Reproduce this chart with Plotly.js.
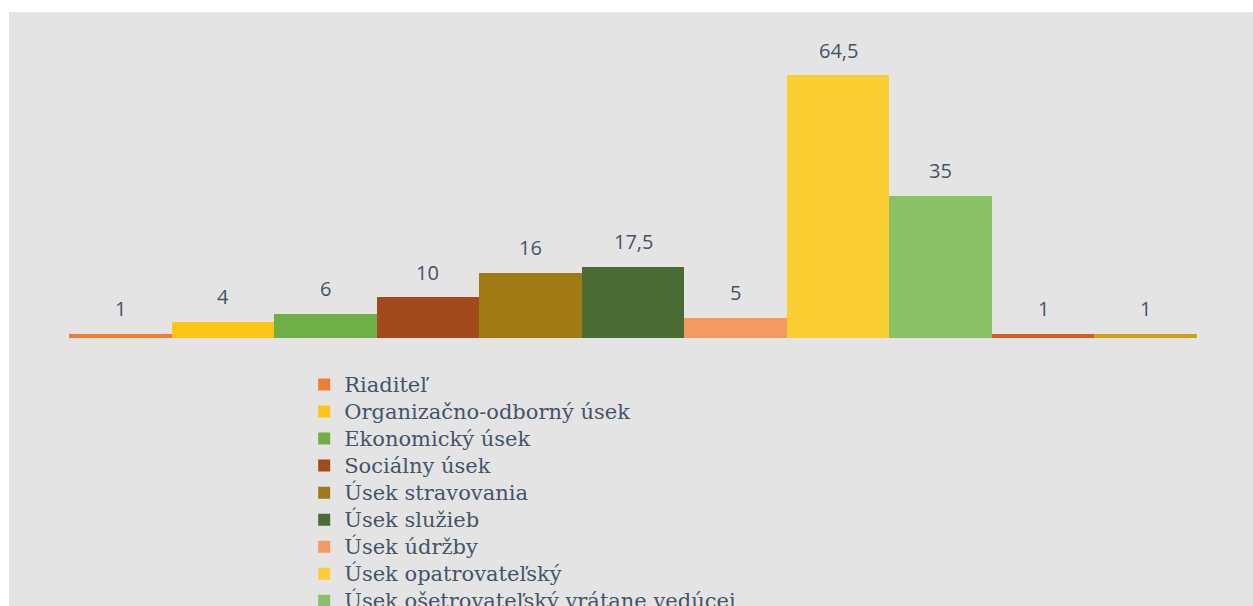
<!DOCTYPE html>
<html>
<head>
<meta charset="utf-8">
<script src="https://cdn.plot.ly/plotly-3.0.1.min.js"></script>
<style>
html,body{margin:0;padding:0;background:#ffffff;overflow:hidden;width:1253px;height:606px;}
#chart{position:absolute;left:9px;top:12px;width:1244px;height:760px;}
</style>
</head>
<body>
<div id="chart"></div>
<script>
// Data
const categories = [
  "Riaditeľ",
  "Organizačno-odborný úsek",
  "Ekonomický úsek",
  "Sociálny úsek",
  "Úsek stravovania",
  "Úsek služieb",
  "Úsek údržby",
  "Úsek opatrovateľský",
  "Úsek ošetrovateľský vrátane vedúcej",
  "Ostatné (1)",
  "Ostatné (2)"
];
const values = [1, 4, 6, 10, 16, 17.5, 5, 64.5, 35, 1, 1];
const colors = [
  "#ED7D31", "#FDC516", "#70AE47",
  "#A34A1C", "#A07A15", "#4A6B33",
  "#F29A62", "#FBCF33", "#8BC166",
  "#D9601A", "#D4A015"
];

const fmt = v => String(v).replace('.', ',');

const traces = categories.map((name, i) => ({
  type: 'bar',
  name: '<span style="font-size:21px">' + name + '</span>',
  x: [i],
  y: [values[i]],
  width: [1],
  marker: {color: colors[i], line: {width: 0}},
  hoverinfo: 'y'
}));

const annotations = categories.map((name, i) => ({
  x: i,
  y: values[i],
  xref: 'x',
  yref: 'y',
  text: fmt(values[i]),
  showarrow: false,
  yanchor: 'middle',
  yshift: 25,
  font: {family: 'Open Sans, sans-serif', size: 20, color: '#44546A'}
}));

const layout = {
  width: 1244,
  height: 760,
  paper_bgcolor: '#E4E4E4',
  plot_bgcolor: '#E4E4E4',
  margin: {l: 60, r: 56, t: 41, b: 434},
  barmode: 'overlay',
  bargap: 0,
  showlegend: true,
  xaxis: {range: [-0.5, 10.5], showgrid: false, zeroline: false, showticklabels: false, ticks: '', showline: false, fixedrange: true},
  yaxis: {range: [0, 70], showgrid: false, zeroline: false, showticklabels: false, ticks: '', showline: false, fixedrange: true},
  legend: {
    orientation: 'v',
    x: 0.2085,
    xanchor: 'left',
    y: -0.098,
    yanchor: 'top',
    bgcolor: 'rgba(0,0,0,0)',
    font: {family: 'DejaVu Serif, serif', size: 18.5, color: '#44546A'},
    tracegroupgap: 0,
    itemwidth: 30
  },
  annotations: annotations
};

Plotly.newPlot('chart', traces, layout, {displayModeBar: false, staticPlot: true});
</script>
</body>
</html>
